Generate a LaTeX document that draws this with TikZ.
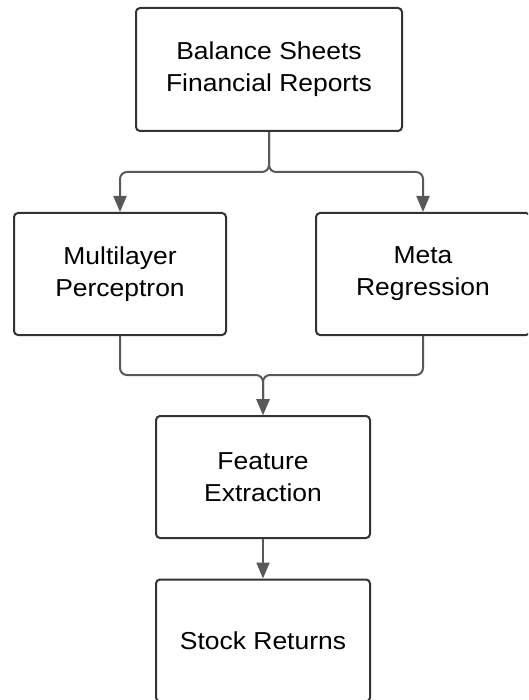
\documentclass[tikz,border=0pt]{standalone}
\usepackage{fontspec}
\setmainfont[FakeStretch=1.08]{Liberation Sans}
\usepackage{tikz}
\usetikzlibrary{arrows.meta}
\definecolor{boxline}{HTML}{333333}
\definecolor{connline}{HTML}{595959}
\tikzset{
  box/.style = {draw=boxline, line width=2pt, rounded corners=4pt, fill=white,
    align=center, inner sep=0pt, font=\fontsize{24.5}{32}\selectfont},
  conn/.style = {draw=connline, line width=2pt, rounded corners=7pt,
    -{Triangle[length=16pt, width=13pt]}}
}

\begin{document}
\begin{tikzpicture}[x=1pt, y=-1pt]
\useasboundingbox (0,0) rectangle (528,700);
\clip (0,0) rectangle (528,700);

\node[box, minimum width=266pt, minimum height=123pt] (src) at (269,69.5) {Balance Sheets\\Financial Reports};
\node[box, minimum width=212pt, minimum height=122pt] (mlp) at (120,274) {Multilayer\\Perceptron};
\node[box, minimum width=214pt, minimum height=122pt] (meta) at (423,274) {Meta\\Regression};
\node[box, minimum width=214pt, minimum height=122pt] (feat) at (263,477) {Feature\\Extraction};
\node[box, minimum width=214pt, minimum height=122pt] (stock) at (263,640.5) {Stock Returns};

\coordinate (split) at (269,172);
\coordinate (merge) at (263,375);

\draw[conn] (src.south) |- (split) -| (mlp.north);
\draw[conn] (src.south) |- (split) -| (meta.north);
\draw[conn] (mlp.south) |- (merge) -- (feat.north);
\draw[conn] (meta.south) |- (merge) -- (feat.north);
\draw[conn] (feat.south) -- (stock.north);

\end{tikzpicture}
\end{document}
